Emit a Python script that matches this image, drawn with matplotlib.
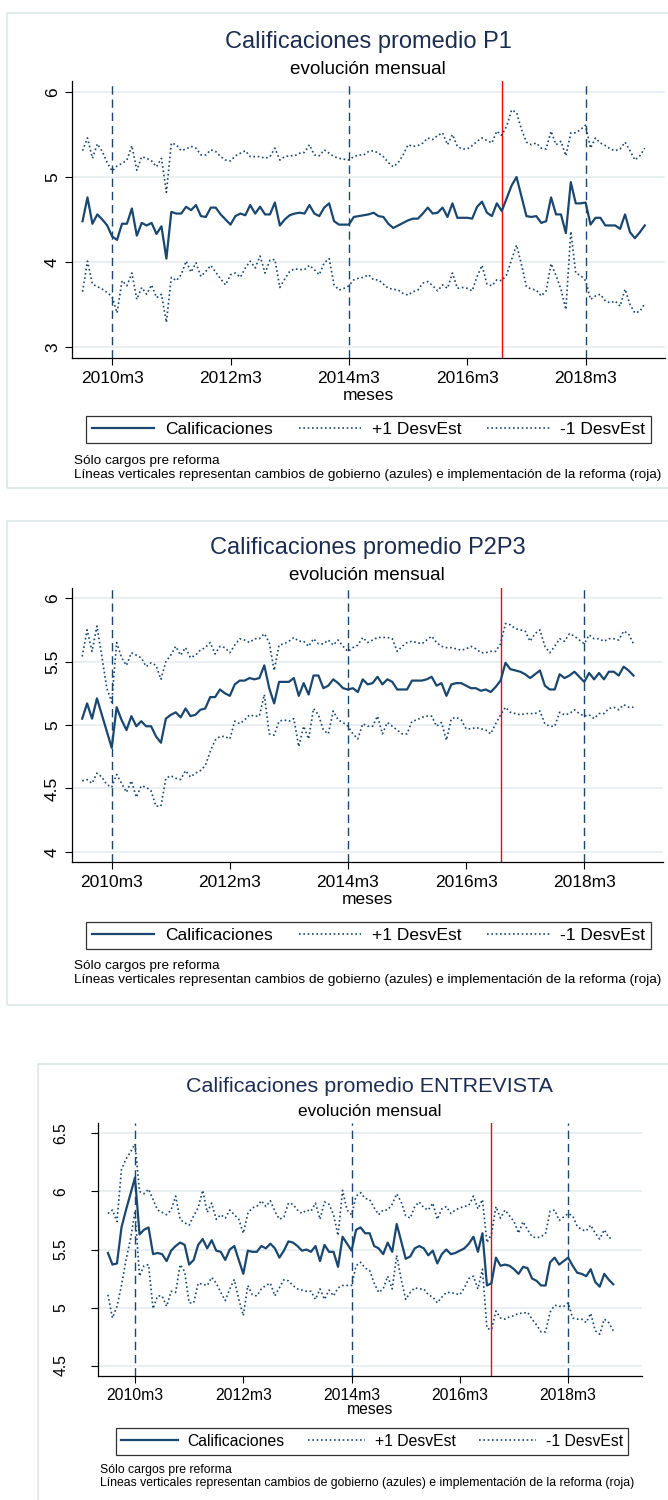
import numpy as np
import matplotlib
matplotlib.use("Agg")
import matplotlib.pyplot as plt
from matplotlib.patches import Rectangle

plt.rcParams['font.family'] = ['Liberation Sans', 'DejaVu Sans']

W, H = 668, 1500

# months counted from 2010m3 (first observation is 2009m9)
first_month = -6
tick_months = [0, 24, 48, 72, 96]
tick_labels = ["2010m3", "2012m3", "2014m3", "2016m3", "2018m3"]
gov_changes = [0, 48, 96]   # 2010m3, 2014m3, 2018m3
reform_month = 79           # 2016m10

# ---- P1 (2009m9 - 2019m3)
p1_mean = [4.48, 4.76, 4.45, 4.56, 4.50, 4.43, 4.30, 4.26, 4.45, 4.45,
           4.63, 4.31, 4.46, 4.43, 4.46, 4.33, 4.42, 4.04, 4.59, 4.57,
           4.57, 4.65, 4.61, 4.67, 4.54, 4.53, 4.64, 4.64, 4.56, 4.50,
           4.44, 4.54, 4.57, 4.55, 4.67, 4.57, 4.65, 4.56, 4.56, 4.70,
           4.43, 4.50, 4.55, 4.57, 4.58, 4.57, 4.67, 4.57, 4.54, 4.64,
           4.69, 4.48, 4.44, 4.44, 4.44, 4.53, 4.54, 4.55, 4.56, 4.58,
           4.54, 4.53, 4.45, 4.40, 4.43, 4.46, 4.49, 4.51, 4.51, 4.57,
           4.64, 4.57, 4.58, 4.64, 4.53, 4.69, 4.52, 4.52, 4.52, 4.51,
           4.65, 4.71, 4.58, 4.54, 4.69, 4.60, 4.75, 4.90, 5.00, 4.77,
           4.54, 4.53, 4.54, 4.46, 4.48, 4.76, 4.56, 4.56, 4.34, 4.94,
           4.69, 4.69, 4.70, 4.44, 4.52, 4.52, 4.43, 4.43, 4.43, 4.39,
           4.56, 4.35, 4.28, 4.35, 4.43]
p1_up = [5.31, 5.46, 5.22, 5.39, 5.30, 5.17, 5.07, 5.13, 5.16, 5.20,
         5.37, 5.08, 5.24, 5.22, 5.19, 5.12, 5.22, 4.82, 5.40, 5.38,
         5.31, 5.33, 5.36, 5.34, 5.26, 5.26, 5.32, 5.30, 5.24, 5.20,
         5.19, 5.25, 5.28, 5.31, 5.24, 5.24, 5.24, 5.22, 5.24, 5.34,
         5.20, 5.24, 5.25, 5.25, 5.28, 5.29, 5.38, 5.26, 5.25, 5.32,
         5.28, 5.24, 5.22, 5.21, 5.20, 5.24, 5.26, 5.26, 5.30, 5.31,
         5.28, 5.24, 5.17, 5.12, 5.17, 5.26, 5.38, 5.36, 5.37, 5.40,
         5.46, 5.44, 5.49, 5.52, 5.38, 5.50, 5.36, 5.33, 5.33, 5.37,
         5.42, 5.46, 5.43, 5.40, 5.54, 5.49, 5.60, 5.79, 5.76, 5.56,
         5.41, 5.38, 5.40, 5.34, 5.33, 5.54, 5.38, 5.42, 5.25, 5.52,
         5.52, 5.56, 5.61, 5.34, 5.46, 5.40, 5.37, 5.33, 5.31, 5.33,
         5.41, 5.31, 5.20, 5.25, 5.34]
p1_low = [3.65, 4.01, 3.74, 3.71, 3.68, 3.64, 3.59, 3.40, 3.78, 3.72,
          3.87, 3.56, 3.70, 3.62, 3.73, 3.58, 3.62, 3.29, 3.82, 3.78,
          3.85, 4.01, 3.88, 3.99, 3.83, 3.89, 3.96, 3.88, 3.80, 3.73,
          3.85, 3.87, 3.82, 3.93, 4.01, 3.93, 4.07, 3.87, 4.02, 4.03,
          3.70, 3.80, 3.89, 3.92, 3.91, 3.91, 3.96, 3.91, 3.85, 3.99,
          4.04, 3.73, 3.67, 3.69, 3.72, 3.79, 3.81, 3.82, 3.85, 3.79,
          3.79, 3.74, 3.69, 3.68, 3.67, 3.63, 3.61, 3.65, 3.67, 3.75,
          3.77, 3.72, 3.66, 3.73, 3.69, 3.87, 3.69, 3.70, 3.69, 3.66,
          3.83, 3.96, 3.74, 3.72, 3.79, 3.78, 3.85, 4.03, 4.20, 3.97,
          3.71, 3.68, 3.67, 3.60, 3.66, 3.98, 3.84, 3.68, 3.44, 4.36,
          3.87, 3.84, 3.78, 3.56, 3.60, 3.62, 3.54, 3.52, 3.54, 3.48,
          3.68, 3.50, 3.40, 3.42, 3.51]

# ---- P2P3 (2009m9 - 2019m1)
p2_mean = [5.05, 5.17, 5.05, 5.21, 5.08, 4.95, 4.82, 5.14, 5.04, 4.96,
           5.07, 4.99, 5.03, 4.99, 4.99, 4.91, 4.86, 5.05, 5.08, 5.10,
           5.06, 5.13, 5.07, 5.08, 5.12, 5.13, 5.22, 5.22, 5.28, 5.25,
           5.23, 5.32, 5.35, 5.35, 5.37, 5.36, 5.37, 5.47, 5.29, 5.17,
           5.34, 5.34, 5.34, 5.37, 5.23, 5.33, 5.24, 5.39, 5.39, 5.29,
           5.31, 5.36, 5.33, 5.29, 5.28, 5.29, 5.26, 5.36, 5.32, 5.33,
           5.38, 5.32, 5.36, 5.34, 5.28, 5.28, 5.28, 5.35, 5.35, 5.35,
           5.36, 5.38, 5.31, 5.33, 5.23, 5.32, 5.33, 5.33, 5.31, 5.29,
           5.29, 5.27, 5.28, 5.26, 5.30, 5.35, 5.49, 5.44, 5.43, 5.42,
           5.40, 5.37, 5.40, 5.43, 5.31, 5.28, 5.28, 5.40, 5.37, 5.39,
           5.42, 5.38, 5.34, 5.41, 5.36, 5.41, 5.36, 5.42, 5.42, 5.39,
           5.46, 5.43, 5.39]
p2_up = [5.54, 5.75, 5.58, 5.78, 5.54, 5.29, 5.18, 5.65, 5.53, 5.47,
         5.57, 5.55, 5.53, 5.46, 5.49, 5.47, 5.36, 5.50, 5.55, 5.62,
         5.55, 5.61, 5.53, 5.55, 5.59, 5.61, 5.65, 5.56, 5.62, 5.61,
         5.57, 5.63, 5.68, 5.67, 5.65, 5.68, 5.68, 5.72, 5.65, 5.43,
         5.63, 5.64, 5.66, 5.69, 5.66, 5.66, 5.62, 5.68, 5.64, 5.64,
         5.67, 5.63, 5.67, 5.62, 5.58, 5.61, 5.63, 5.69, 5.65, 5.67,
         5.69, 5.69, 5.69, 5.68, 5.58, 5.62, 5.65, 5.66, 5.65, 5.64,
         5.67, 5.70, 5.65, 5.62, 5.61, 5.61, 5.60, 5.59, 5.60, 5.62,
         5.60, 5.57, 5.57, 5.58, 5.58, 5.64, 5.80, 5.79, 5.76, 5.75,
         5.74, 5.66, 5.72, 5.75, 5.62, 5.57, 5.62, 5.68, 5.66, 5.72,
         5.70, 5.67, 5.64, 5.71, 5.68, 5.68, 5.66, 5.68, 5.68, 5.67,
         5.74, 5.72, 5.64]
p2_low = [4.56, 4.57, 4.54, 4.62, 4.59, 4.53, 4.51, 4.61, 4.54, 4.47,
          4.56, 4.43, 4.52, 4.51, 4.48, 4.36, 4.36, 4.58, 4.60, 4.58,
          4.57, 4.64, 4.59, 4.62, 4.64, 4.68, 4.79, 4.88, 4.91, 4.91,
          4.89, 5.03, 5.01, 5.04, 5.08, 5.07, 5.07, 5.24, 4.93, 4.92,
          5.03, 5.04, 5.03, 5.05, 4.83, 4.99, 4.89, 5.13, 5.08, 4.96,
          4.93, 5.11, 5.04, 5.02, 4.99, 4.93, 4.89, 5.01, 4.99, 4.99,
          5.07, 4.93, 5.02, 4.99, 4.96, 4.93, 4.93, 5.03, 5.04, 5.06,
          5.07, 5.07, 4.99, 5.02, 4.88, 5.05, 5.06, 5.04, 4.97, 4.97,
          4.98, 4.97, 4.96, 4.93, 5.01, 5.08, 5.14, 5.10, 5.09, 5.08,
          5.09, 5.09, 5.09, 5.11, 5.01, 4.99, 4.99, 5.10, 5.08, 5.09,
          5.12, 5.09, 5.07, 5.08, 5.05, 5.09, 5.09, 5.13, 5.14, 5.12,
          5.16, 5.14, 5.14]

# ---- ENTREVISTA (2009m9 - 2019m1)
p3_mean = [5.47, 5.37, 5.38, 5.69, 5.84, 5.98, 6.12, 5.63, 5.67, 5.69,
           5.46, 5.47, 5.46, 5.40, 5.49, 5.53, 5.56, 5.54, 5.37, 5.41,
           5.54, 5.59, 5.51, 5.58, 5.49, 5.48, 5.41, 5.50, 5.53, 5.41,
           5.29, 5.49, 5.48, 5.48, 5.53, 5.51, 5.55, 5.51, 5.43, 5.49,
           5.57, 5.56, 5.53, 5.49, 5.50, 5.48, 5.53, 5.40, 5.54, 5.48,
           5.48, 5.35, 5.61, 5.55, 5.49, 5.67, 5.69, 5.64, 5.64, 5.53,
           5.51, 5.46, 5.56, 5.48, 5.72, 5.57, 5.42, 5.44, 5.51, 5.53,
           5.51, 5.45, 5.49, 5.38, 5.46, 5.50, 5.46, 5.47, 5.49, 5.51,
           5.55, 5.61, 5.48, 5.64, 5.19, 5.21, 5.43, 5.36, 5.37, 5.36,
           5.33, 5.29, 5.35, 5.34, 5.25, 5.23, 5.19, 5.19, 5.39, 5.43,
           5.37, 5.40, 5.43, 5.36, 5.30, 5.29, 5.27, 5.33, 5.22, 5.18,
           5.29, 5.24, 5.20]
p3_up = [5.81, 5.84, 5.74, 6.19, 6.28, 6.34, 6.41, 6.00, 5.98, 6.02,
         5.93, 5.84, 5.82, 5.80, 5.84, 5.96, 5.76, 5.73, 5.71, 5.79,
         5.86, 6.01, 5.82, 5.90, 5.76, 5.80, 5.77, 5.84, 5.80, 5.76,
         5.64, 5.81, 5.86, 5.87, 5.92, 5.87, 5.92, 5.83, 5.76, 5.78,
         5.90, 5.89, 5.84, 5.81, 5.84, 5.83, 5.90, 5.76, 5.91, 5.89,
         5.80, 5.62, 6.01, 5.84, 5.80, 5.96, 5.99, 5.94, 5.93, 5.86,
         5.80, 5.84, 5.84, 5.89, 5.98, 5.91, 5.79, 5.77, 5.87, 5.91,
         5.86, 5.84, 5.90, 5.76, 5.85, 5.87, 5.81, 5.84, 5.86, 5.87,
         5.88, 5.96, 5.85, 5.93, 5.56, 5.63, 5.87, 5.77, 5.84, 5.79,
         5.74, 5.64, 5.74, 5.67, 5.61, 5.60, 5.61, 5.64, 5.83, 5.84,
         5.75, 5.78, 5.81, 5.79, 5.70, 5.67, 5.66, 5.71, 5.64, 5.59,
         5.67, 5.60, 5.60]
p3_low = [5.11, 4.91, 5.01, 5.19, 5.41, 5.59, 5.83, 5.27, 5.36, 5.37,
          4.99, 5.10, 5.10, 5.01, 5.14, 5.13, 5.37, 5.31, 5.04, 5.04,
          5.21, 5.20, 5.19, 5.26, 5.21, 5.13, 5.06, 5.16, 5.24, 5.07,
          4.93, 5.19, 5.11, 5.10, 5.16, 5.19, 5.21, 5.10, 5.17, 5.24,
          5.23, 5.19, 5.16, 5.15, 5.14, 5.14, 5.07, 5.16, 5.07, 5.15,
          5.10, 5.17, 5.19, 5.19, 5.19, 5.36, 5.39, 5.34, 5.32, 5.21,
          5.13, 5.16, 5.27, 5.16, 5.45, 5.24, 5.07, 5.13, 5.17, 5.16,
          5.16, 5.11, 5.09, 5.04, 5.09, 5.13, 5.13, 5.12, 5.11, 5.17,
          5.25, 5.27, 5.16, 5.33, 4.82, 4.81, 4.97, 4.91, 4.90, 4.92,
          4.93, 4.95, 4.95, 4.96, 4.90, 4.85, 4.79, 4.79, 4.96, 5.02,
          5.01, 5.01, 5.04, 4.91, 4.90, 4.90, 4.87, 4.95, 4.80, 4.77,
          4.90, 4.87, 4.80]

NAVY = "#1a476f"
TITLE = "#1c2d50"
GRID = "#e6eef0"
BOX = "#dce7e9"

fig = plt.figure(figsize=(W / 100, H / 100), dpi=100)
fig.patch.set_facecolor("white")


def fx(x):
    return x / W


def fy(y):
    return 1 - y / H


def draw_panel(title, mean, up, low, yticks, ytick_labels, ylim, lay):
    s = lay["scale"]   # text scale of this graph
    bx0, by0, bx1, by1 = lay["box"]
    fig.patches.append(Rectangle((fx(bx0), fy(by1)), fx(bx1 - bx0), (by1 - by0) / H,
                                 transform=fig.transFigure, fill=False,
                                 edgecolor=BOX, lw=1.2))
    l, t, r, b = lay["axes"]
    ax = fig.add_axes([fx(l), fy(b), fx(r - l), (b - t) / H])
    x = np.arange(len(mean)) + first_month

    for m in gov_changes:
        ax.axvline(m, color=NAVY, lw=1.0, ls=(0, (6, 3.5)), zorder=1)
    ax.axvline(reform_month, color="red", lw=1.0, zorder=1)

    l1, = ax.plot(x, mean, color=NAVY, lw=1.6, zorder=3)
    l2, = ax.plot(x, up, color=NAVY, lw=1.2, ls=(0, (1, 1.6)), zorder=2)
    l3, = ax.plot(x, low, color=NAVY, lw=1.2, ls=(0, (1, 1.6)), zorder=2)

    ax.set_xlim(lay["xlim"])
    ax.set_ylim(ylim)
    ax.set_yticks(yticks)
    ax.set_yticklabels(ytick_labels, rotation=90, va="center", fontsize=12.5 * s)
    ax.set_xticks(tick_months)
    ax.set_xticklabels(tick_labels, fontsize=12.5 * s)
    ax.tick_params(axis="both", length=5, width=0.8, color="black")
    ax.tick_params(axis="x", pad=lay["xpad"])
    ax.tick_params(axis="y", pad=lay["ypad"])
    ax.grid(axis="y", color=GRID, lw=1.2)
    ax.set_axisbelow(True)
    for sp in ["top", "right"]:
        ax.spines[sp].set_visible(False)
    for sp in ["left", "bottom"]:
        ax.spines[sp].set_linewidth(0.9)

    cx = (l + r) / 2
    fig.text(fx(cx), fy(lay["title_y"]), title, ha="center", va="center",
             fontsize=17 * s, color=TITLE)
    fig.text(fx(cx), fy(lay["sub_y"]), "evolución mensual", ha="center",
             va="center", fontsize=13.6 * s, color="black")
    fig.text(fx(cx), fy(lay["meses_y"]), "meses", ha="center", va="center",
             fontsize=12.5 * s, color="black")

    lx0, ly0, lx1, ly1 = lay["legend"]
    leg = fig.legend([l1, l2, l3], ["Calificaciones", "+1 DesvEst", "-1 DesvEst"],
                     loc="center", bbox_to_anchor=(fx((lx0 + lx1) / 2), fy((ly0 + ly1) / 2)),
                     ncol=3, fontsize=12.5 * s, frameon=True, fancybox=False,
                     edgecolor="black", handlelength=3.6, handletextpad=0.6,
                     columnspacing=1.5, borderpad=0.35, borderaxespad=0)
    leg.get_frame().set_linewidth(0.9)

    nx, ny = lay["note"]
    fig.text(fx(nx), fy(ny), "Sólo cargos pre reforma", ha="left", va="center",
             fontsize=9.7 * s)
    fig.text(fx(nx), fy(ny + 14 * s),
             "Líneas verticales representan cambios de gobierno (azules) e implementación de la reforma (roja)",
             ha="left", va="center", fontsize=9.7 * s)


lay1 = dict(scale=1.0, box=(7, 13, 700, 488), axes=(71.7, 81, 665, 358), xlim=(-8.2, 112.1),
            xpad=4.5, ypad=3.5, title_y=42, sub_y=70, meses_y=395,
            legend=(83, 414, 654, 445), note=(74, 461))
lay2 = dict(scale=1.0, box=(7, 521, 700, 1005), axes=(71.7, 588, 663, 862), xlim=(-8.13, 112),
            xpad=4.5, ypad=3.5, title_y=548, sub_y=575, meses_y=900,
            legend=(83, 920, 654, 951), note=(74, 966))
lay3 = dict(scale=0.91, box=(38, 1064, 700, 1530), axes=(97.7, 1123, 641.7, 1376), xlim=(-8.27, 112.3),
            xpad=4.0, ypad=16, title_y=1086, sub_y=1111, meses_y=1410,
            legend=(108, 1427, 636, 1456), note=(100, 1470))

draw_panel("Calificaciones promedio P1", p1_mean, p1_up, p1_low,
           [3, 4, 5, 6], ["3", "4", "5", "6"], (2.87, 6.13), lay1)
draw_panel("Calificaciones promedio P2P3", p2_mean, p2_up, p2_low,
           [4, 4.5, 5, 5.5, 6], ["4", "4.5", "5", "5.5", "6"], (3.92, 6.08), lay2)
draw_panel("Calificaciones promedio ENTREVISTA", p3_mean, p3_up, p3_low,
           [4.5, 5, 5.5, 6, 6.5], ["4.5", "5", "5.5", "6", "6.5"], (4.41, 6.59), lay3)

fig.savefig("out.png", dpi=100)
